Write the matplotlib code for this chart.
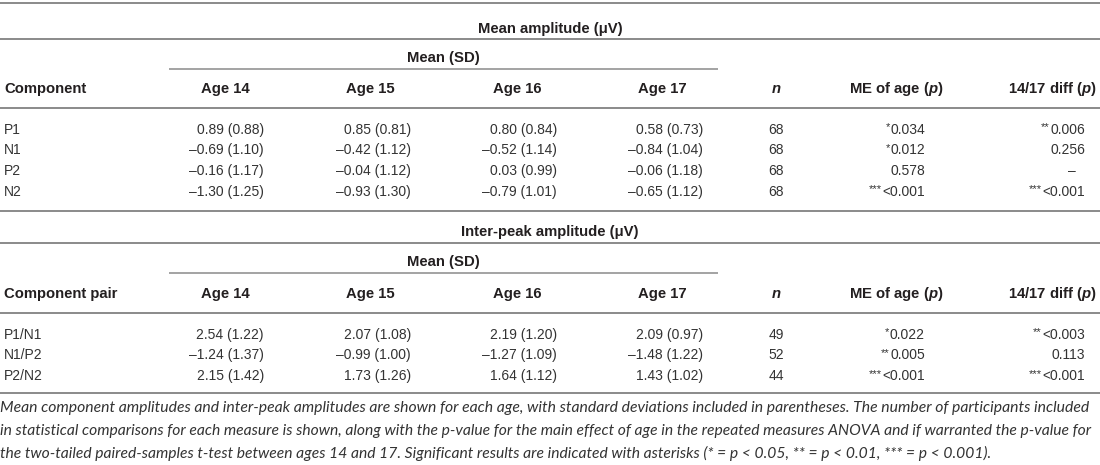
import matplotlib
matplotlib.use('Agg')
import matplotlib.pyplot as plt

# --- table data ---
components = ['P1', 'N1', 'P2', 'N2']
amp_age14 = [0.89, -0.69, -0.16, -1.30]
amp_sd14 = [0.88, 1.10, 1.17, 1.25]
amp_age15 = [0.85, -0.42, -0.04, -0.93]
amp_sd15 = [0.81, 1.12, 1.12, 1.30]
amp_age16 = [0.80, -0.52, 0.03, -0.79]
amp_sd16 = [0.84, 1.14, 0.99, 1.01]
amp_age17 = [0.58, -0.84, -0.06, -0.65]
amp_sd17 = [0.73, 1.04, 1.18, 1.12]
amp_n = [68, 68, 68, 68]
amp_me_p = ['0.034', '0.012', '0.578', '<0.001']
amp_me_stars = ['*', '*', '', '***']
amp_diff_p = ['0.006', '0.256', '\u2013', '<0.001']
amp_diff_stars = ['**', '', '', '***']

pairs = ['P1/N1', 'N1/P2', 'P2/N2']
ip_age14 = [2.54, -1.24, 2.15]
ip_sd14 = [1.22, 1.37, 1.42]
ip_age15 = [2.07, -0.99, 1.73]
ip_sd15 = [1.08, 1.00, 1.26]
ip_age16 = [2.19, -1.27, 1.64]
ip_sd16 = [1.20, 1.09, 1.12]
ip_age17 = [2.09, -1.48, 1.43]
ip_sd17 = [0.97, 1.22, 1.02]
ip_n = [49, 52, 44]
ip_me_p = ['0.022', '0.005', '<0.001']
ip_me_stars = ['*', '**', '***']
ip_diff_p = ['<0.003', '0.113', '<0.001']
ip_diff_stars = ['**', '', '***']

age_labels = ['Age 14', 'Age 15', 'Age 16', 'Age 17']
caption = [
    'Mean component amplitudes and inter-peak amplitudes are shown for each age, with standard deviations included in parentheses. The number of participants included',
    'in statistical comparisons for each measure is shown, along with the p-value for the main effect of age in the repeated measures ANOVA and if warranted the p-value for',
    'the two-tailed paired-samples t-test between ages 14 and 17. Significant results are indicated with asterisks (* = p < 0.05, ** = p < 0.01, *** = p < 0.001).',
]

plt.rcParams['font.family'] = ['Liberation Sans', 'DejaVu Sans']
plt.rcParams['mathtext.fontset'] = 'custom'
plt.rcParams['mathtext.it'] = 'Liberation Sans:italic:bold'
plt.rcParams['mathtext.rm'] = 'Liberation Sans:bold'

txt = '#231f20'
val_col = '#333333'
rule = '#8a8a8a'
W, H = 1100, 465

fig = plt.figure(figsize=(11, 4.65), dpi=100)
ax = fig.add_axes([0, 0, 1, 1])
ax.set_xlim(0, W)
ax.set_ylim(H, 0)
ax.axis('off')

# column positions (pixels)
age_centers = [225, 370, 517, 662]
age_rights = [264, 411, 557, 703]
n_x = 776
me_center, me_right = 896, 925
diff_right_hdr, diff_right, dash_x = 1097, 1085, 1072
hdr_fs, val_fs = 10.7, 10.0


def fmt(v):
    s = f'{abs(v):.2f}'
    return ('\u2013' + s) if v < 0 else s


def section(lines, title, first_col, labels, means, sds, ns, me_p, me_st, diff_p, diff_st):
    top, mid, under, hdr_line = lines
    for y in [top, mid, hdr_line]:
        ax.plot([0, W], [y, y], color=rule, lw=1.4, solid_capstyle='butt')
    ax.plot([169, 718], [under, under], color=rule, lw=1.1, solid_capstyle='butt')
    bold = dict(fontsize=hdr_fs, fontweight='bold', color=txt, va='baseline')
    ax.text(550, mid - 6.6, title, ha='center', **bold)
    ax.text(443, under - 7.6, 'Mean (SD)', ha='center', **bold)
    hy = hdr_line - 15.3
    ax.text(4, hy, first_col, ha='left', **bold)
    for lab, cx in zip(age_labels, age_centers):
        ax.text(cx, hy, lab, ha='center', **bold)
    ax.text(n_x, hy, 'n', ha='center', style='italic', **bold)
    ax.text(me_center, hy, r'ME of age ($p$)', ha='center', **bold)
    ax.text(diff_right_hdr, hy, r'14/17 diff ($p$)', ha='right', **bold)

    reg = dict(fontsize=val_fs, color=val_col, va='baseline')
    row_y = [hdr_line + 25.4 + 20.7 * i for i in range(len(labels))]
    stars = []
    for i, y in enumerate(row_y):
        ax.text(4, y, labels[i], ha='left', **reg)
        for k in range(4):
            ax.text(age_rights[k], y, f'{fmt(means[k][i])} ({sds[k][i]:.2f})', ha='right', **reg)
        ax.text(n_x, y, str(ns[i]), ha='center', **reg)
        t1 = ax.text(me_right, y, me_p[i], ha='right', **reg)
        stars.append((t1, me_st[i], y))
        if diff_p[i] == '\u2013':
            ax.text(dash_x, y, diff_p[i], ha='center', **reg)
        else:
            t2 = ax.text(diff_right, y, diff_p[i], ha='right', **reg)
            stars.append((t2, diff_st[i], y))
    return stars


all_stars = []
all_stars += section((2.7, 39.3, 69.3, 108.3), 'Mean amplitude (\u03bcV)', 'Component', components,
                     [amp_age14, amp_age15, amp_age16, amp_age17],
                     [amp_sd14, amp_sd15, amp_sd16, amp_sd17],
                     amp_n, amp_me_p, amp_me_stars, amp_diff_p, amp_diff_stars)
all_stars += section((211, 242.7, 273.3, 313.3), 'Inter-peak amplitude (\u03bcV)', 'Component pair', pairs,
                     [ip_age14, ip_age15, ip_age16, ip_age17],
                     [ip_sd14, ip_sd15, ip_sd16, ip_sd17],
                     ip_n, ip_me_p, ip_me_stars, ip_diff_p, ip_diff_stars)
ax.plot([0, W], [393.3, 393.3], color=rule, lw=1.4, solid_capstyle='butt')

fig.canvas.draw()
r = fig.canvas.get_renderer()
inv = ax.transData.inverted()
for t, st, y in all_stars:
    if not st:
        continue
    bb = t.get_window_extent(r)
    x_left = inv.transform((bb.x0, bb.y0))[0]
    ax.text(x_left - 0.5, y - 3.5, st, ha='right', va='baseline', fontsize=val_fs * 0.8, color=val_col)

# caption, each full line sized to span the table width (justified look)
cap_y = [411.7, 435, 458.3]
cap_font = dict(family=['Lato', 'Liberation Sans', 'DejaVu Sans'], style='italic', color=val_col)
sizes = []
for line in caption[:2]:
    probe = ax.text(0, 0, line, ha='left', va='baseline', fontsize=10, **cap_font)
    fig.canvas.draw()
    sizes.append(10 * 1095 / probe.get_window_extent(r).width)
    probe.remove()
sizes.append(min(sizes))
for line, y, fs in zip(caption, cap_y, sizes):
    ax.text(0, y, line, ha='left', va='baseline', fontsize=fs, **cap_font)

fig.savefig('out.png', dpi=100)
